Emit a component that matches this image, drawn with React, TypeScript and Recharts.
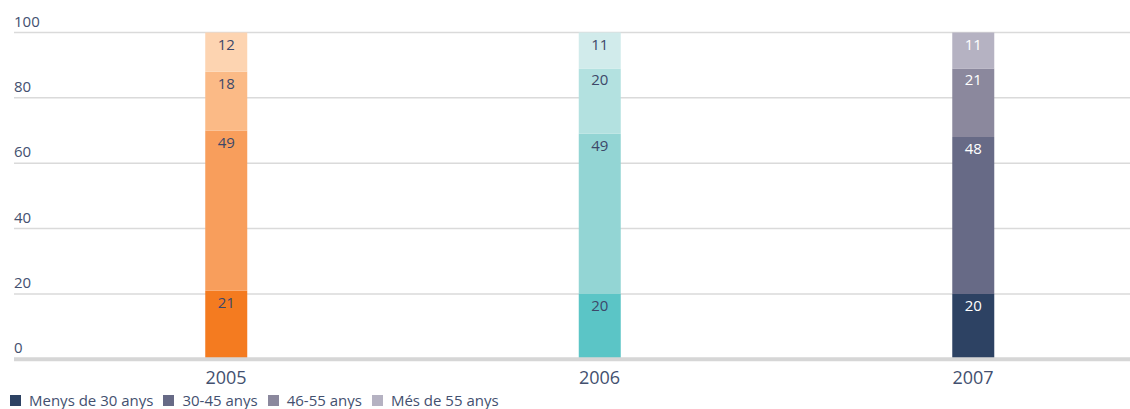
import React from 'react'
import { BarChart, Bar, XAxis, YAxis, CartesianGrid, Cell, LabelList } from 'recharts'

// Age distribution of staff (%), per year
const years = [2005, 2006, 2007]
const under30 = [21, 20, 20]
const age30to45 = [49, 49, 48]
const age46to55 = [18, 20, 21]
const over55 = [12, 11, 11]

const seriesNames = ['Menys de 30 anys', '30-45 anys', '46-55 anys', 'Més de 55 anys']
const yTicks = [0, 20, 40, 60, 80, 100]

// each year has its own colour family, darkest at the bottom
const yearPalettes = [
  ['#F47B20', '#F89E5C', '#FBBA86', '#FDD4B1'],
  ['#5BC5C6', '#93D5D4', '#B3E1E0', '#D1EBEB'],
  ['#2D4263', '#676A86', '#8B889D', '#B5B2C2'],
]
const legendColors = yearPalettes[2]
const labelColors = ['#3D4869', '#3D4869', '#FFFFFF']

const data = years.map((year, i) => ({
  year,
  s0: under30[i],
  s1: age30to45[i],
  s2: age46to55[i],
  s3: over55[i],
}))

const FONT = '"Open Sans", sans-serif'
const TEXT = '#43506F'

const YTick = ({ y, payload }: any) => (
  <text x={14} y={y - 6} fill={TEXT} fontSize={15} fontFamily={FONT} textAnchor="start">
    {payload.value}
  </text>
)

const XTick = ({ x, y, payload }: any) => (
  <text x={x} y={y + 17} fill={TEXT} fontSize={18} fontFamily={FONT} textAnchor="middle">
    {payload.value}
  </text>
)

const SegmentLabel = (props: any) => {
  const { x, y, width, value, index } = props
  return (
    <text
      x={x + width / 2}
      y={y + 17}
      fill={labelColors[index]}
      fontSize={15}
      fontFamily={FONT}
      textAnchor="middle"
    >
      {value}
    </text>
  )
}

export default function App() {
  return (
    <div style={{ position: 'absolute', left: 0, top: 0, width: 1130, height: 409, background: '#fff', overflow: 'hidden' }}>
      <BarChart
        width={1130}
        height={409}
        data={data}
        margin={{ top: 32.5, right: 0, left: 0, bottom: 19.7 }}
      >
        <CartesianGrid vertical={false} stroke="#DADADA" strokeWidth={1.5} />
        <YAxis
          type="number"
          domain={[0, 100]}
          ticks={yTicks}
          width={14}
          axisLine={false}
          tickLine={false}
          tick={<YTick />}
        />
        {[0, 1, 2, 3].map((s) => (
          <Bar key={s} dataKey={`s${s}`} stackId="a" barSize={42} isAnimationActive={false}>
            {data.map((_, i) => (
              <Cell key={i} fill={yearPalettes[i][s]} />
            ))}
            <LabelList dataKey={`s${s}`} content={<SegmentLabel />} />
          </Bar>
        ))}
        <XAxis
          dataKey="year"
          type="number"
          domain={[2004.4324, 2007.4203]}
          ticks={years}
          allowDataOverflow
          height={30}
          axisLine={{ stroke: '#D6D6D6', strokeWidth: 4 }}
          tickLine={false}
          tick={<XTick />}
        />
      </BarChart>
      <div
        style={{
          position: 'absolute',
          left: 10,
          top: 391,
          height: 18,
          lineHeight: '18px',
          display: 'flex',
          alignItems: 'center',
          fontFamily: FONT,
          fontSize: 15,
          color: TEXT,
          whiteSpace: 'nowrap',
        }}
      >
        {seriesNames.map((name, i) => (
          <div key={name} style={{ display: 'flex', alignItems: 'center', marginRight: 10 }}>
            <span style={{ width: 11, height: 11, background: legendColors[i], marginRight: 8, display: 'inline-block' }} />
            <span>{name}</span>
          </div>
        ))}
      </div>
    </div>
  )
}
